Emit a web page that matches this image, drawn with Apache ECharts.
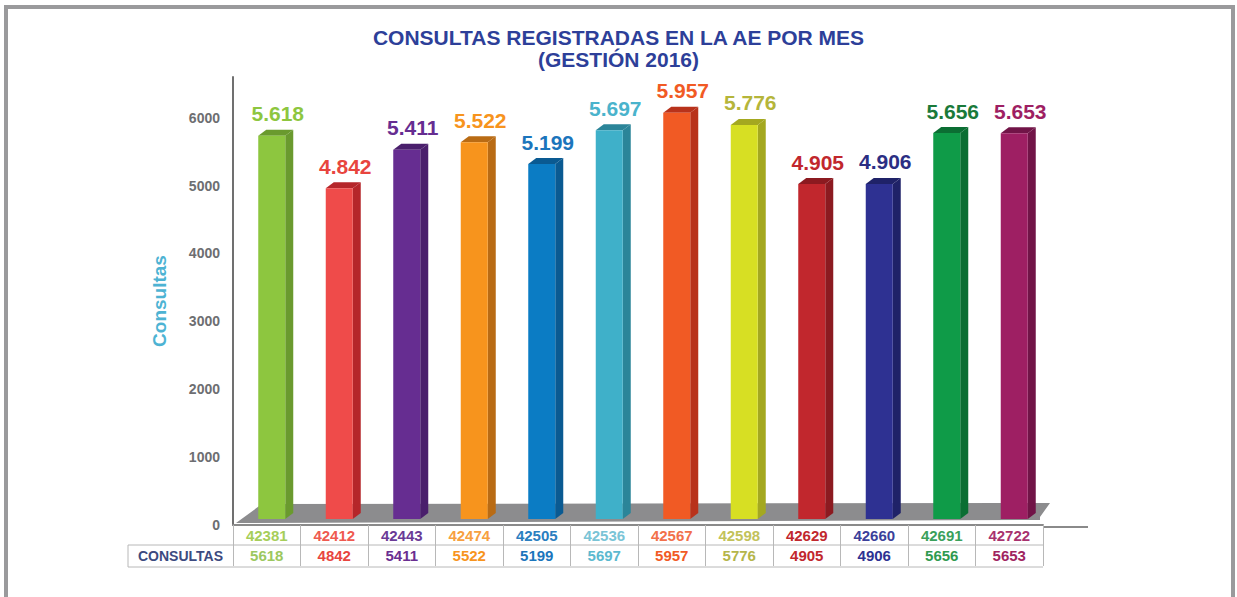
<!DOCTYPE html>
<html>
<head>
    <meta charset="UTF-8">
    <title>Consultas registradas en la AE por mes</title>
    <script src="https://cdn.jsdelivr.net/npm/echarts/dist/echarts.min.js"></script>
    <style>
        body { margin: 0; background: #fff; }
    </style>
</head>
<body>
<div id="chart" style="width:1237px; height:597px;"></div>
<script>
    // categorias (codigo de mes) y consultas registradas
    var meses = ['42381', '42412', '42443', '42474', '42505', '42536', '42567', '42598', '42629', '42660', '42691', '42722'];
    var consultas = [5618, 4842, 5411, 5522, 5199, 5697, 5957, 5776, 4905, 4906, 5656, 5653];
    var yTicks = [0, 1000, 2000, 3000, 4000, 5000, 6000];

    // colores de cada barra: frente, lado, etiqueta, fila de la tabla
    var frente = ['#8dc63f', '#ef4b4a', '#662d91', '#f7941d', '#0b7cc4', '#3fb0c9', '#f15a24', '#d7df23', '#c1272d', '#2e3192', '#0f9b48', '#9e1f63'];
    var lado = ['#6a9a2e', '#b5262a', '#4a1f6c', '#b96b14', '#0a5a92', '#2b8599', '#b8321b', '#a4a820', '#8c1a20', '#1f2268', '#0b6e33', '#711447'];
    var etiqueta = ['#8dc63f', '#e8453e', '#662d91', '#f7941d', '#1b75bc', '#4ab3cc', '#f15a24', '#b5b53a', '#c1272d', '#2b2e83', '#1a7a3a', '#9e1f63'];
    var filaCod = ['#a6ce5a', '#ef5a50', '#6a3a96', '#f7a040', '#2a7ec0', '#7ac4d6', '#f2704a', '#c2c25a', '#c1272d', '#3b3f9a', '#3aa05a', '#a8326e'];
    var filaVal = ['#9cc860', '#e8453e', '#6a2e91', '#f7941d', '#1b75bc', '#5cb9cf', '#f15a24', '#b5b54a', '#c1272d', '#2e3192', '#2f9a4f', '#a0245f'];

    var FONT = "'Liberation Sans', Arial, sans-serif";
    // bordes de la zona de grafico (px)
    var GL = 233, GR = 1043, G_TOP = 77, G_BASE = 525;

    function miles(v) {
        var r = String(v % 1000);
        while (r.length < 3) r = '0' + r;
        return Math.floor(v / 1000) + '.' + r;
    }

    var rich = {};
    meses.forEach(function (m, i) {
        rich['a' + i] = {color: filaCod[i], fontWeight: 'bold', fontSize: 15, fontFamily: FONT, lineHeight: 18};
        rich['b' + i] = {color: filaVal[i], fontWeight: 'bold', fontSize: 15, fontFamily: FONT, lineHeight: 22};
    });

    var chart = echarts.init(document.getElementById('chart'), null, {renderer: 'svg'});

    var option = {
        backgroundColor: '#ffffff',
        animation: false,
        title: {
            text: 'CONSULTAS REGISTRADAS EN LA AE POR MES\n(GESTIÓN 2016)',
            left: 'center',
            top: 21,
            textStyle: {
                color: '#2d3f99',
                fontSize: 21,
                fontWeight: 'bold',
                fontFamily: FONT,
                lineHeight: 22
            }
        },
        grid: {
            left: GL,
            right: 1237 - GR,
            top: G_TOP,
            bottom: 597 - G_BASE
        },
        xAxis: {
            type: 'category',
            data: meses,
            boundaryGap: true,
            axisLine: {lineStyle: {color: '#8a8a8a', width: 2}},
            axisTick: {show: true, interval: 0, length: 41, lineStyle: {color: '#b8b8b8', width: 1}},
            axisLabel: {
                interval: 0,
                margin: 1,
                formatter: function (value, idx) {
                    return '{a' + idx + '|' + value + '}\n{b' + idx + '|' + consultas[idx] + '}';
                },
                rich: rich
            },
            splitLine: {show: false}
        },
        yAxis: {
            type: 'value',
            min: 0,
            max: 6600,
            interval: 1000,
            name: 'Consultas',
            nameLocation: 'middle',
            nameGap: 64,
            nameTextStyle: {
                color: '#4db3d3',
                fontSize: 19,
                fontWeight: 'bold',
                fontFamily: FONT
            },
            axisLine: {show: true, lineStyle: {color: '#707070', width: 2}},
            axisTick: {show: false},
            splitLine: {show: false},
            axisLabel: {
                showMaxLabel: false,
                margin: 13,
                color: '#6d6e71',
                fontSize: 14,
                fontWeight: 'bold',
                fontFamily: FONT,
                formatter: function (v) {
                    return yTicks.indexOf(v) >= 0 ? String(v) : '';
                }
            }
        },
        graphic: [
            // marco gris
            {type: 'rect', shape: {x: 6, y: 7, width: 1227, height: 620}, style: {fill: 'none', stroke: '#9a9a9c', lineWidth: 4}, z: 0},
            // piso 3D
            {type: 'polygon', shape: {points: [[GL + 3, G_BASE - 2], [GL + 29, G_BASE - 21], [GR + 7, G_BASE - 22], [GR - 3, G_BASE - 8], [GR - 3, G_BASE - 5]]},
                style: {fill: '#8c8c8e'}, z: 0},
            // prolongacion de la linea del eje
            {type: 'line', shape: {x1: GR, y1: G_BASE + 2, x2: GR + 45, y2: G_BASE + 2}, style: {stroke: '#8a8a8a', lineWidth: 2}, z: 0},
            // tabla
            {type: 'line', shape: {x1: GL, y1: G_BASE + 20, x2: GR, y2: G_BASE + 20}, style: {stroke: '#b8b8b8', lineWidth: 1}, z: 0},
            {type: 'line', shape: {x1: 128, y1: G_BASE + 42, x2: GR, y2: G_BASE + 42}, style: {stroke: '#b8b8b8', lineWidth: 1}, z: 0},
            {type: 'line', shape: {x1: 128, y1: G_BASE + 20, x2: GL, y2: G_BASE + 20}, style: {stroke: '#b8b8b8', lineWidth: 1}, z: 0},
            {type: 'line', shape: {x1: 128, y1: G_BASE + 20, x2: 128, y2: G_BASE + 42}, style: {stroke: '#b8b8b8', lineWidth: 1}, z: 0},
            {type: 'text', x: (128 + GL) / 2, y: G_BASE + 31, z: 1,
                style: {text: 'CONSULTAS', align: 'center', verticalAlign: 'middle', fill: '#3c4a80', font: 'bold 14px ' + FONT}}
        ],
        series: [{
            type: 'custom',
            z: 10,
            data: consultas.map(function (v, i) { return [i, v]; }),
            encode: {x: 0, y: 1},
            renderItem: function (params, api) {
                var i = api.value(0), v = api.value(1);
                var top = api.coord([i, v]);
                var base = api.coord([i, 0]);
                var w = 27, dx = 8, dy = 6;
                var L = top[0] - 8.5, R = L + w;
                var yT = top[1] - 8, yB = base[1] - 6;
                return {
                    type: 'group',
                    children: [
                        {type: 'polygon', shape: {points: [[R, yT], [R + dx, yT - dy], [R + dx, yB - dy], [R, yB]]}, style: {fill: lado[i]}},
                        {type: 'polygon', shape: {points: [[L, yT], [L + dx, yT - dy], [R + dx, yT - dy], [R, yT]]}, style: {fill: lado[i]}},
                        {type: 'rect', shape: {x: L, y: yT, width: w, height: yB - yT}, style: {fill: frente[i]}},
                        {type: 'text', x: top[0] + 11, y: yT - 22,
                            style: {text: miles(v), align: 'center', verticalAlign: 'middle', fill: etiqueta[i], font: 'bold 21px ' + FONT}}
                    ]
                };
            }
        }]
    };

    chart.setOption(option);
</script>
</body>
</html>
